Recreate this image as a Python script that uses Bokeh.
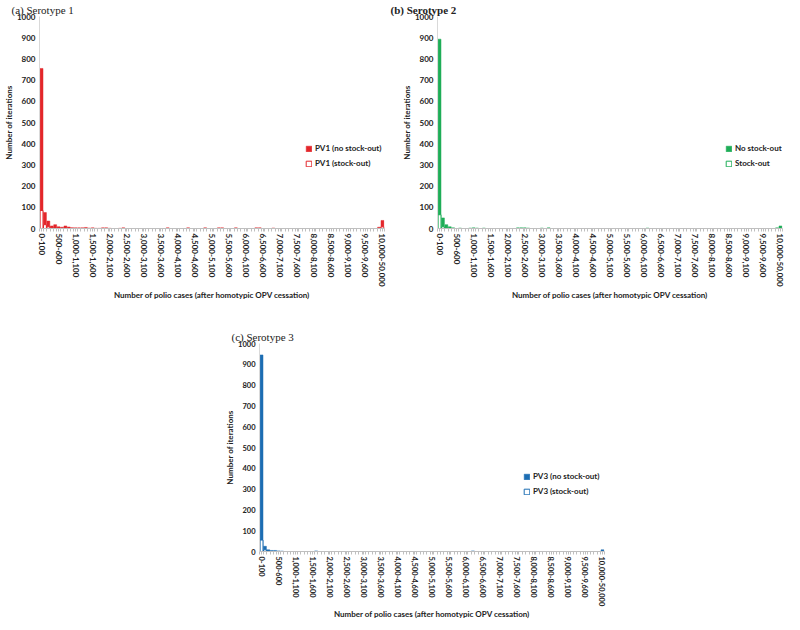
from bokeh.plotting import figure
from bokeh.layouts import column, row, Spacer
from bokeh.models import FixedTicker, Range1d, Legend, LegendItem, ColumnDataSource
from bokeh.embed import file_html
from bokeh.resources import INLINE

# ---- categories (bins of polio cases) ----
CATEGORIES = [f"{lo:,}-{lo + 100:,}" for lo in range(0, 10000, 100)] + ["10,000-50,000"]
TICK_LABELS = ["0-100", "500-600", "1,000-1,100", "1,500-1,600", "2,000-2,100", "2,500-2,600",
               "3,000-3,100", "3,500-3,600", "4,000-4,100", "4,500-4,600", "5,000-5,100",
               "5,500-5,600", "6,000-6,100", "6,500-6,600", "7,000-7,100", "7,500-7,600",
               "8,000-8,100", "8,500-8,600", "9,000-9,100", "9,500-9,600", "10,000-50,000"]

# ---- (a) Serotype 1 ----
PV1_NO_STOCKOUT = [755, 75, 35, 12, 18, 8, 6, 12, 7, 4,
                   3, 3, 3, 5, 2, 3, 1, 1, 3, 3,
                   1, 0, 0, 1, 3, 0, 0, 0, 0, 0,
                   0, 0, 0, 0, 0, 0, 0, 3, 0, 0,
                   0, 0, 0, 3, 0, 0, 0, 0, 3, 0,
                   0, 0, 3, 3, 0, 0, 0, 3, 0, 0,
                   0, 0, 0, 3, 3, 0, 0, 0, 2, 0,
                   0, 0, 0, 0, 0, 0, 0, 0, 0, 0,
                   0, 0, 0, 0, 0, 0, 0, 0, 0, 0,
                   0, 0, 0, 0, 0, 0, 0, 0, 0, 6,
                   38]
PV1_STOCKOUT = [85, 18, 8, 4, 2, 2, 0, 0, 0, 0,
                0, 0, 0, 0, 0, 0, 0, 0, 0, 0,
                0, 0, 0, 0, 0, 0, 0, 0, 0, 0,
                0, 0, 0, 0, 0, 0, 0, 0, 0, 0,
                0, 0, 0, 0, 0, 0, 0, 0, 0, 0,
                0, 0, 0, 0, 0, 0, 0, 0, 0, 0,
                0, 0, 0, 0, 0, 0, 0, 0, 0, 0,
                0, 0, 0, 0, 0, 0, 0, 0, 0, 0,
                0, 0, 0, 0, 0, 0, 0, 0, 0, 0,
                0, 0, 0, 0, 0, 0, 0, 0, 0, 0,
                8]

# ---- (b) Serotype 2 ----
PV2_NO_STOCKOUT = [893, 50, 18, 8, 3, 0, 2, 0, 0, 2,
                   3, 2, 0, 2, 0, 0, 0, 0, 0, 0,
                   0, 0, 0, 3, 3, 3, 2, 0, 0, 0,
                   2, 0, 3, 0, 0, 0, 0, 0, 0, 0,
                   0, 0, 0, 0, 0, 0, 0, 0, 0, 0,
                   0, 0, 0, 0, 0, 0, 0, 0, 0, 0,
                   0, 2, 0, 0, 0, 0, 0, 0, 0, 0,
                   0, 0, 0, 0, 0, 0, 0, 0, 0, 0,
                   0, 0, 0, 0, 0, 0, 0, 0, 0, 0,
                   0, 0, 0, 0, 0, 0, 0, 0, 0, 3,
                   12]
PV2_STOCKOUT = [65, 8, 4, 0, 0, 0, 0, 0, 0, 0,
                0, 0, 0, 0, 0, 0, 0, 0, 0, 0,
                0, 0, 0, 0, 0, 0, 0, 0, 0, 0,
                0, 0, 0, 0, 0, 0, 0, 0, 0, 0,
                0, 0, 0, 0, 0, 0, 0, 0, 0, 0,
                0, 0, 0, 0, 0, 0, 0, 0, 0, 0,
                0, 0, 0, 0, 0, 0, 0, 0, 0, 0,
                0, 0, 0, 0, 0, 0, 0, 0, 0, 0,
                0, 0, 0, 0, 0, 0, 0, 0, 0, 0,
                0, 0, 0, 0, 0, 0, 0, 0, 0, 0,
                0]

# ---- (c) Serotype 3 ----
PV3_NO_STOCKOUT = [945, 25, 8, 5, 5, 3, 2, 0, 0, 0,
                   0, 0, 0, 0, 0, 0, 3, 0, 0, 0,
                   0, 0, 0, 0, 0, 0, 0, 0, 0, 0,
                   0, 0, 0, 0, 0, 0, 0, 0, 0, 0,
                   0, 0, 0, 0, 0, 0, 0, 0, 0, 0,
                   0, 0, 0, 0, 0, 0, 0, 0, 0, 0,
                   0, 0, 3, 0, 0, 0, 0, 0, 0, 0,
                   0, 0, 0, 0, 0, 0, 0, 0, 0, 0,
                   0, 0, 0, 0, 0, 0, 0, 0, 0, 0,
                   0, 0, 0, 0, 0, 0, 0, 0, 0, 0,
                   8]
PV3_STOCKOUT = [55, 8, 3, 0, 0, 0, 0, 0, 0, 0,
                0, 0, 0, 0, 0, 0, 0, 0, 0, 0,
                0, 0, 0, 0, 0, 0, 0, 0, 0, 0,
                0, 0, 0, 0, 0, 0, 0, 0, 0, 0,
                0, 0, 0, 0, 0, 0, 0, 0, 0, 0,
                0, 0, 0, 0, 0, 0, 0, 0, 0, 0,
                0, 0, 0, 0, 0, 0, 0, 0, 0, 0,
                0, 0, 0, 0, 0, 0, 0, 0, 0, 0,
                0, 0, 0, 0, 0, 0, 0, 0, 0, 0,
                0, 0, 0, 0, 0, 0, 0, 0, 0, 0,
                0]

Y_TICKS = [0, 100, 200, 300, 400, 500, 600, 700, 800, 900, 1000]

SANS = "Lato"
SERIF = "Liberation Serif"


def make_panel(title, title_style, filled, hollow, color, lab_f, lab_h,
               width, height, bl, br, bt, bb, legend_xy, xfs="8px", yfs="8px"):
    p = figure(width=width, height=height, output_backend="svg", toolbar_location=None,
               x_range=Range1d(-0.6, len(CATEGORIES) - 0.4), y_range=Range1d(0, 1000),
               min_border_left=bl, min_border_right=br, min_border_top=bt, min_border_bottom=bb)
    p.outline_line_color = None
    p.grid.visible = False
    p.background_fill_color = "white"

    fx = [i for i, v in enumerate(filled) if v > 0]
    fsrc = ColumnDataSource(dict(x=fx, top=[filled[i] for i in fx]))
    hx = [i for i, v in enumerate(hollow) if v > 0]
    hsrc = ColumnDataSource(dict(x=hx, top=[hollow[i] for i in hx]))
    r1 = p.vbar(x="x", top="top", width=0.85, source=fsrc, fill_color=color, line_color=color, line_width=0.5)
    r2 = p.vbar(x="x", top="top", width=0.85, source=hsrc, fill_color="white", line_color=color, line_width=1)

    xa = p.xaxis[0]
    major = [CATEGORIES.index(t) for t in TICK_LABELS]
    xa.ticker = FixedTicker(ticks=major, minor_ticks=[i - 0.5 for i in range(len(CATEGORIES) + 1)])
    xa.major_label_overrides = {m: t for m, t in zip(major, TICK_LABELS)}
    xa.major_label_orientation = "vertical"
    xa.major_label_text_font = SANS
    xa.major_label_text_font_style = "bold"
    xa.major_label_text_font_size = xfs
    xa.major_label_text_color = "#222222"
    xa.major_label_standoff = 2
    xa.axis_line_color = "#bfbfbf"
    xa.major_tick_line_color = "#bfbfbf"
    xa.minor_tick_line_color = "#bfbfbf"
    xa.major_tick_out = 3
    xa.minor_tick_out = 3
    xa.major_tick_in = 0
    xa.minor_tick_in = 0
    xa.axis_label = "Number of polio cases (after homotypic OPV cessation)"
    xa.axis_label_text_font = SANS
    xa.axis_label_text_font_style = "bold"
    xa.axis_label_text_font_size = "8px"
    xa.axis_label_text_color = "#222222"
    xa.axis_label_standoff = 0

    ya = p.yaxis[0]
    ya.ticker = FixedTicker(ticks=Y_TICKS)
    ya.major_label_text_font = SANS
    ya.major_label_text_font_style = "bold"
    ya.major_label_text_font_size = yfs
    ya.major_label_text_color = "#222222"
    ya.axis_line_color = "#d9d9d9"
    ya.major_tick_line_color = None
    ya.minor_tick_line_color = None
    ya.major_tick_out = 0
    ya.major_tick_in = 0
    ya.minor_tick_out = 0
    ya.minor_tick_in = 0
    ya.major_label_standoff = 4
    ya.axis_label = "Number of iterations"
    ya.axis_label_text_font = SANS
    ya.axis_label_text_font_style = "bold"
    ya.axis_label_text_font_size = "8px"
    ya.axis_label_text_color = "#222222"
    ya.axis_label_standoff = 0

    p.title.text = title
    p.title.text_font = SERIF
    p.title.text_font_style = title_style
    p.title.text_font_size = "11px"
    p.title.text_color = "#222222"
    p.title.align = "left"
    p.title.offset = -bl + 2
    p.title.standoff = 2

    legend = Legend(items=[LegendItem(label=lab_f, renderers=[r1]),
                           LegendItem(label=lab_h, renderers=[r2])],
                    location=legend_xy, orientation="vertical")
    legend.border_line_color = None
    legend.background_fill_alpha = 0
    legend.glyph_width = 7
    legend.glyph_height = 7
    legend.label_text_font = SANS
    legend.label_text_font_style = "bold"
    legend.label_text_font_size = "8px"
    legend.label_text_color = "#222222"
    legend.label_standoff = 3
    legend.label_width = 50
    legend.spacing = 5
    legend.padding = 0
    legend.margin = 0
    legend.label_height = 9
    p.add_layout(legend)
    return p


pa = make_panel("(a) Serotype 1", "normal", PV1_NO_STOCKOUT, PV1_STOCKOUT, "#E3262B",
                "PV1 (no stock-out)", "PV1 (stock-out)",
                width=388, height=302, bl=30, br=4, bt=12, bb=70, legend_xy=(266, 60))
pb = make_panel("(b) Serotype 2", "bold", PV2_NO_STOCKOUT, PV2_STOCKOUT, "#1EAD57",
                "No stock-out", "Stock-out",
                width=396, height=302, bl=49, br=2, bt=12, bb=70, legend_xy=(288, 60))
pc = make_panel("(c) Serotype 3", "normal", PV3_NO_STOCKOUT, PV3_STOCKOUT, "#1C6DB3",
                "PV3 (no stock-out)", "PV3 (stock-out)",
                width=390, height=320, bl=30, br=8, bt=41, bb=66, legend_xy=(264, 55),
                xfs="7.5px", yfs="7.5px")

layout = column(row(pa, pb), row(Spacer(width=222, height=320), pc))

open("out.html", "w").write(file_html(layout, INLINE))
